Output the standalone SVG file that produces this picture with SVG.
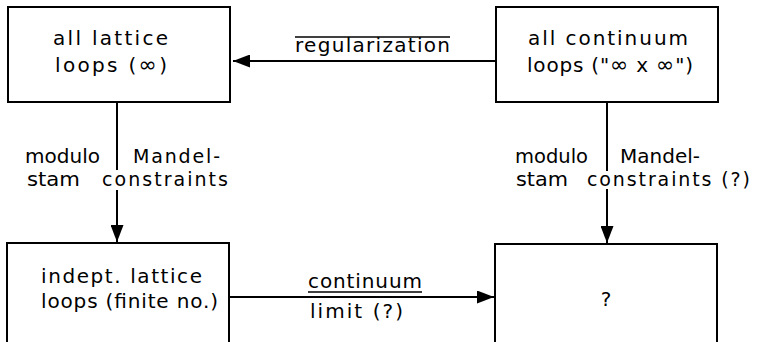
<svg xmlns="http://www.w3.org/2000/svg" width="760" height="342" viewBox="0 0 760 342">
<style>
  .box { fill: #fff; stroke: #000; stroke-width: 2; }
  .t { font-family: "DejaVu Sans", "Liberation Sans", sans-serif; font-size: 20px; fill: #000; }
  .s { font-size: 19px; }
  .inf { font-size: 22px; }
  .c { stroke: #000; stroke-width: 2; fill: none; }
  .deco { stroke: #000; stroke-width: 1.5; }
</style>
<defs>
  <marker id="ah" markerUnits="userSpaceOnUse" markerWidth="18" markerHeight="13" refX="17" refY="6.5" orient="auto">
    <path d="M0,0 L17,6.5 L0,13 z" fill="#000"/>
  </marker>
</defs>
<rect width="760" height="342" fill="#fff"/>

<g id="connectors">
  <line class="c" x1="496" y1="61" x2="233" y2="61" marker-end="url(#ah)"/>
  <line class="c" x1="117" y1="102" x2="117" y2="170"/>
  <line class="c" x1="117" y1="190" x2="117" y2="242" marker-end="url(#ah)"/>
  <line class="c" x1="607" y1="102" x2="607" y2="171"/>
  <line class="c" x1="607" y1="189" x2="607" y2="243" marker-end="url(#ah)"/>
  <line class="c" x1="230" y1="297" x2="494" y2="297" marker-end="url(#ah)"/>
  <g id="connector-labels">
    <text class="t" x="295" y="52" textLength="155" lengthAdjust="spacing">regularization</text>
    <line class="deco" x1="295" y1="37" x2="450" y2="37"/>
    <text class="t s" x="25" y="163" textLength="75" lengthAdjust="spacingAndGlyphs">modulo</text>
    <text class="t s" x="133" y="163" textLength="87" lengthAdjust="spacing">Mandel-</text>
    <text class="t s" x="27" y="186" textLength="53" lengthAdjust="spacingAndGlyphs">stam</text>
    <text class="t s" x="102" y="186" textLength="126" lengthAdjust="spacing">constraints</text>
    <text class="t s" x="515" y="163" textLength="73" lengthAdjust="spacingAndGlyphs">modulo</text>
    <text class="t s" x="620" y="163" textLength="80" lengthAdjust="spacingAndGlyphs">Mandel-</text>
    <text class="t s" x="516" y="186" textLength="52" lengthAdjust="spacingAndGlyphs">stam</text>
    <text class="t s" x="587" y="186" textLength="163" lengthAdjust="spacing">constraints (?)</text>
    <text class="t" x="308" y="288" textLength="114" lengthAdjust="spacing">continuum</text>
    <line class="deco" x1="308" y1="292" x2="422" y2="292"/>
    <text class="t" x="310" y="318" textLength="93" lengthAdjust="spacing">limit (?)</text>
  </g>
</g>

<g id="node-all-lattice">
  <rect class="box" x="8" y="7" width="222" height="95"/>
  <text class="t" x="53" y="45" textLength="115" lengthAdjust="spacing">all lattice</text>
  <text class="t" x="55" y="72" textLength="112" lengthAdjust="spacing">loops (<tspan class="inf">∞</tspan>)</text>
</g>

<g id="node-all-continuum">
  <rect class="box" x="496" y="7" width="222" height="95"/>
  <text class="t" x="528" y="45" textLength="160" lengthAdjust="spacing">all continuum</text>
  <text class="t" x="527" y="72" textLength="166" lengthAdjust="spacing">loops ("<tspan class="inf">∞</tspan> x <tspan class="inf">∞</tspan>")</text>
</g>

<g id="node-indept-lattice">
  <rect class="box" x="7" y="243" width="222" height="106"/>
  <text class="t" x="41" y="283" textLength="161" lengthAdjust="spacing">indept. lattice</text>
  <text class="t" x="41" y="308" textLength="177" lengthAdjust="spacing">loops (finite no.)</text>
</g>

<g id="node-unknown">
  <rect class="box" x="495" y="244" width="222" height="105"/>
  <text class="t" x="606" y="306" text-anchor="middle" font-size="26">?</text>
</g>
</svg>
